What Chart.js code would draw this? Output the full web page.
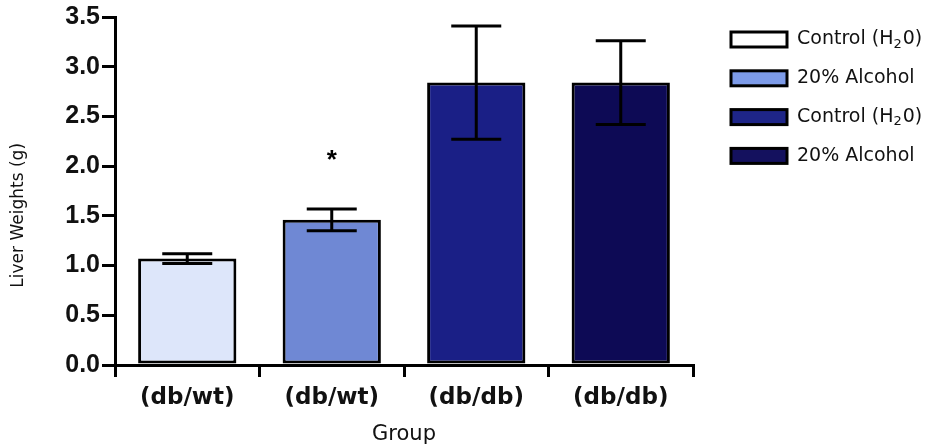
<!DOCTYPE html>
<html>
<head>
<meta charset="utf-8">
<script src="https://cdn.jsdelivr.net/npm/chart.js@4.4.0/dist/chart.umd.min.js"></script>
<style>
  html, body { margin: 0; padding: 0; background: #fff; }
  #wrap { width: 938px; height: 447px; position: relative; }
</style>
</head>
<body>
<div id="wrap"><canvas id="liverChart"></canvas></div>
<script>
// data
const groups = ['(db/wt)', '(db/wt)', '(db/db)', '(db/db)'];
const legendNames = ['Control (H|2|0)', '20% Alcohol', 'Control (H|2|0)', '20% Alcohol']; // |2| = subscript
const liverWeights = [1.07, 1.46, 2.84, 2.84];
const sem = [0.05, 0.11, 0.57, 0.42];
const marks = ['', '*', '', ''];
const yTicks = [0, 0.5, 1.0, 1.5, 2.0, 2.5, 3.0, 3.5];

const barColors = ['#dde6fa', '#6f88d4', '#1a1f86', '#0d0a55'];
const legendColors = ['#ffffff', '#7d9be8', '#1e2588', '#14115e'];

const SANS = '"DejaVu Sans", Verdana, sans-serif';
const ARIAL = '"Liberation Sans", Arial, sans-serif';

// error bars + significance mark
const errorBars = {
    id: 'errorBars',
    afterDatasetsDraw(chart) {
        const ctx = chart.ctx;
        const y = chart.scales.y;
        const meta = chart.getDatasetMeta(0);
        ctx.save();
        ctx.strokeStyle = '#000';
        ctx.lineWidth = 3;
        meta.data.forEach((bar, i) => {
            const hi = y.getPixelForValue(liverWeights[i] + sem[i]);
            const lo = y.getPixelForValue(liverWeights[i] - sem[i]);
            const half = 25;
            ctx.beginPath();
            ctx.moveTo(bar.x, hi);
            ctx.lineTo(bar.x, lo);
            ctx.moveTo(bar.x - half, hi);
            ctx.lineTo(bar.x + half, hi);
            ctx.moveTo(bar.x - half, lo);
            ctx.lineTo(bar.x + half, lo);
            ctx.stroke();
            if (marks[i]) {
                ctx.fillStyle = '#000';
                ctx.font = 'bold 26px ' + ARIAL;
                ctx.textAlign = 'center';
                ctx.textBaseline = 'middle';
                ctx.fillText(marks[i], bar.x, hi - 48);
            }
        });
        ctx.restore();
    }
};

// legend drawn by hand so it sits where the original does
const sideLegend = {
    id: 'sideLegend',
    afterDraw(chart) {
        const ctx = chart.ctx;
        const left = chart.chartArea.right + 38;
        ctx.save();
        legendNames.forEach((name, i) => {
            const cy = 39.5 + i * 38.8;
            ctx.fillStyle = legendColors[i];
            ctx.fillRect(left, cy - 7.5, 56, 15);
            ctx.strokeStyle = '#000';
            ctx.lineWidth = 3;
            ctx.strokeRect(left, cy - 7.5, 56, 15);

            let x = left + 66;
            ctx.fillStyle = '#111';
            ctx.textBaseline = 'middle';
            ctx.textAlign = 'left';
            name.split('|').forEach((part, k) => {
                const sub = k % 2 === 1;
                ctx.font = (sub ? '13px ' : '19px ') + SANS;
                ctx.fillText(part, x, cy + (sub ? 5 : 0));
                x += ctx.measureText(part).width + (sub ? 1 : 0);
            });
        });
        ctx.restore();
    }
};

new Chart(document.getElementById('liverChart'), {
    type: 'bar',
    data: {
        labels: groups,
        datasets: [{
            data: liverWeights,
            backgroundColor: barColors,
            borderColor: '#000',
            borderWidth: 3,
            borderSkipped: false,
            barPercentage: 0.85,
            categoryPercentage: 0.8
        }]
    },
    options: {
        responsive: true,
        maintainAspectRatio: false,
        animation: false,
        layout: { padding: { top: 2, right: 245, left: 0, bottom: 0 } },
        plugins: {
            tooltip: { enabled: false },
            legend: { display: false }
        },
        scales: {
            x: {
                afterFit: (axis) => { axis.height = 82; },
                grid: { drawOnChartArea: false, drawTicks: true, tickLength: 12, color: '#000', lineWidth: 3 },
                border: { color: '#000', width: 3 },
                ticks: {
                    color: '#111',
                    padding: 7,
                    font: { family: SANS, size: 23, weight: 'bold' }
                },
                title: {
                    display: true,
                    text: 'Group',
                    color: '#111',
                    padding: { top: 0, bottom: 0 },
                    font: { family: SANS, size: 21 }
                }
            },
            y: {
                min: 0,
                max: 3.5,
                afterFit: (axis) => { axis.width = 115; },
                afterBuildTicks: (axis) => { axis.ticks = yTicks.map(v => ({ value: v })); },
                grid: { drawOnChartArea: false, drawTicks: true, tickLength: 13, color: '#000', lineWidth: 3 },
                border: { color: '#000', width: 3 },
                ticks: {
                    color: '#111',
                    padding: 2,
                    callback: (v) => Number(v).toFixed(1),
                    font: { family: ARIAL, size: 25, weight: 'bold' }
                },
                title: {
                    display: true,
                    // trailing spaces push the words down, as in the original
                    text: 'Liver Weights (g)' + '\u00a0'.repeat(9),
                    color: '#111',
                    padding: { top: 8 },
                    font: { family: SANS, size: 17 }
                }
            }
        }
    },
    plugins: [errorBars, sideLegend]
});
</script>
</body>
</html>
